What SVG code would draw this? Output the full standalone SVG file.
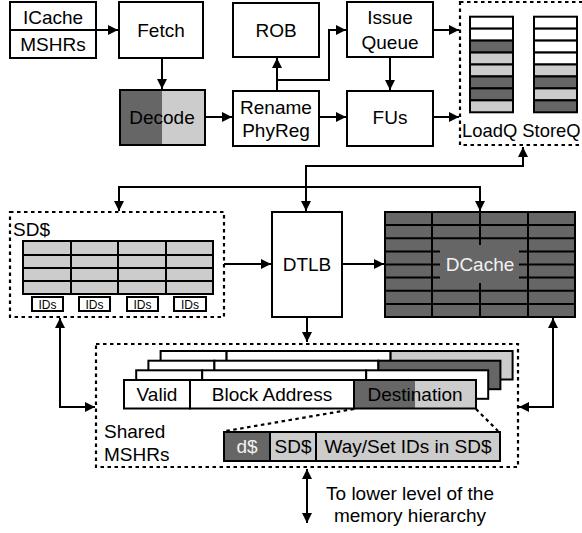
<svg xmlns="http://www.w3.org/2000/svg" width="582" height="533" viewBox="0 0 582 533">
  <style>
    .box { fill: #ffffff; stroke: #000; stroke-width: 2; }
    .dark { fill: #666666; stroke: #000; stroke-width: 2; }
    .light { fill: #cccccc; stroke: #000; stroke-width: 2; }
    .dot { fill: none; stroke: #000; stroke-width: 2.2; stroke-dasharray: 3.5 3.5; }
    .wire { fill: none; stroke: #000; stroke-width: 2; }
    .grid { fill: none; stroke: #000; stroke-width: 2; }
    text { font-family: "Liberation Sans", Arial, Helvetica, sans-serif; font-size: 19px; fill: #000; }
    .c { text-anchor: middle; dominant-baseline: central; }
    .small { font-size: 12px; }
    .white { fill: #f2f2f2; }
  </style>
  <defs>
    <marker id="arrow" viewBox="0 0 10 10" refX="10" refY="5" markerWidth="11" markerHeight="10" markerUnits="userSpaceOnUse" orient="auto-start-reverse">
      <path d="M0,0 L10,5 L0,10 z" fill="#000"/>
    </marker>
    <g id="mshr-entry">
      <rect class="box" x="0" y="0" width="66" height="28.5"/>
      <rect class="box" x="66" y="0" width="164" height="28.5"/>
    </g>
  </defs>

  <!-- front end -->
  <g id="icache">
    <rect class="box" x="10" y="2" width="86" height="56"/>
    <line class="grid" x1="10" y1="30" x2="96" y2="30"/>
    <text class="c" x="53" y="17">ICache</text>
    <text class="c" x="53" y="44">MSHRs</text>
  </g>
  <g id="fetch">
    <rect class="box" x="119" y="2" width="84" height="56"/>
    <text class="c" x="161" y="30">Fetch</text>
  </g>
  <g id="decode">
    <rect x="120" y="90" width="42" height="55" fill="#666666"/>
    <rect x="162" y="90" width="43" height="55" fill="#cccccc"/>
    <rect x="120" y="90" width="85" height="55" fill="none" stroke="#000" stroke-width="2"/>
    <text class="c" x="162" y="117">Decode</text>
  </g>
  <g id="rob">
    <rect class="box" x="233" y="3" width="86" height="54"/>
    <text class="c" x="276" y="30">ROB</text>
  </g>
  <g id="rename">
    <rect class="box" x="233" y="91" width="86" height="55"/>
    <text class="c" x="276" y="107">Rename</text>
    <text class="c" x="276" y="130">PhyReg</text>
  </g>
  <g id="issue-queue">
    <rect class="box" x="347" y="2" width="86" height="55"/>
    <text class="c" x="390" y="17">Issue</text>
    <text class="c" x="390" y="42">Queue</text>
  </g>
  <g id="fus">
    <rect class="box" x="347" y="91" width="86" height="55"/>
    <text class="c" x="390" y="117">FUs</text>
  </g>

  <!-- load / store queues -->
  <g id="lsq">
    <rect class="dot" x="460" y="2" width="135" height="143"/>
    <g id="loadq">
      <rect class="box" x="470" y="16.7" width="43" height="11.95"/>
      <rect class="box" x="470" y="28.65" width="43" height="11.95"/>
      <rect class="dark" x="470" y="40.6" width="43" height="11.95"/>
      <rect class="light" x="470" y="52.55" width="43" height="11.95"/>
      <rect class="light" x="470" y="64.5" width="43" height="11.95"/>
      <rect class="dark" x="470" y="76.45" width="43" height="11.95"/>
      <rect class="dark" x="470" y="88.4" width="43" height="11.95"/>
      <rect class="light" x="470" y="100.35" width="43" height="11.95"/>
    </g>
    <g id="storeq">
      <rect class="box" x="534" y="16.7" width="43" height="11.95"/>
      <rect class="box" x="534" y="28.65" width="43" height="11.95"/>
      <rect class="box" x="534" y="40.6" width="43" height="11.95"/>
      <rect class="box" x="534" y="52.55" width="43" height="11.95"/>
      <rect class="light" x="534" y="64.5" width="43" height="11.95"/>
      <rect class="dark" x="534" y="76.45" width="43" height="11.95"/>
      <rect class="light" x="534" y="88.4" width="43" height="11.95"/>
      <rect class="dark" x="534" y="100.35" width="43" height="11.95"/>
    </g>
    <text x="462" y="136.5" style="font-size:18.4px">LoadQ StoreQ</text>
  </g>

  <!-- SD$ -->
  <g id="sdcache">
    <rect class="dot" x="10" y="212" width="214" height="105"/>
    <text x="13" y="236">SD$</text>
    <rect class="light" x="23" y="241" width="190" height="53"/>
    <path class="grid" d="M71,241 V294 M118,241 V294 M166,241 V294 M23,255 H213 M23,268 H213 M23,281 H213"/>
    <rect class="box" x="32" y="297" width="31" height="14"/>
    <rect class="box" x="79" y="297" width="31" height="14"/>
    <rect class="box" x="127" y="297" width="31" height="14"/>
    <rect class="box" x="174" y="297" width="32" height="14"/>
    <text class="c small" x="47.5" y="304.5">IDs</text>
    <text class="c small" x="94.5" y="304.5">IDs</text>
    <text class="c small" x="142.5" y="304.5">IDs</text>
    <text class="c small" x="190" y="304.5">IDs</text>
  </g>

  <g id="dtlb">
    <rect class="box" x="272" y="212" width="70" height="105"/>
    <text class="c" x="307" y="264">DTLB</text>
  </g>

  <g id="dcache">
    <rect class="dark" x="385" y="212" width="190" height="105"/>
    <path class="grid" d="M432,212 V317 M480,212 V317 M528,212 V317 M385,225.1 H575 M385,238.25 H575 M385,251.4 H575 M385,264.5 H575 M385,277.6 H575 M385,290.75 H575 M385,303.9 H575"/>
    <rect x="440" y="245" width="79" height="38" fill="#666666"/>
    <text class="c white" x="480" y="264">DCache</text>
  </g>

  <!-- shared MSHRs -->
  <g id="shared-mshrs">
    <rect class="dot" x="96" y="344" width="422" height="123"/>
    <g id="mshr-3">
      <use href="#mshr-entry" x="160.6" y="351"/>
      <rect class="light" x="390.6" y="351" width="122" height="28.5"/>
    </g>
    <g id="mshr-2">
      <use href="#mshr-entry" x="148.4" y="360.7"/>
      <rect class="dark" x="378.4" y="360.7" width="122" height="28.5"/>
    </g>
    <g id="mshr-1">
      <use href="#mshr-entry" x="136.2" y="370.3"/>
      <rect class="box" x="366.2" y="370.3" width="122" height="28.5"/>
    </g>
    <g id="mshr-0">
      <use href="#mshr-entry" x="124" y="380"/>
      <rect x="354" y="380" width="61" height="28.5" fill="#666666"/>
      <rect x="415" y="380" width="61" height="28.5" fill="#cccccc"/>
      <rect x="354" y="380" width="122" height="28.5" fill="none" stroke="#000" stroke-width="2"/>
      <text class="c" x="157" y="394.5">Valid</text>
      <text class="c" x="272" y="394.5">Block Address</text>
      <text class="c" x="415" y="394.5">Destination</text>
    </g>
    <path class="dot" d="M354,409 L226,431 M476,409 L498,431"/>
    <g id="destination-fields">
      <rect class="dark" x="224" y="432" width="46" height="29"/>
      <rect class="light" x="270" y="432" width="46" height="29"/>
      <rect class="light" x="316" y="432" width="184" height="29"/>
      <text class="c white" x="247" y="446.5">d$</text>
      <text class="c" x="293" y="446.5">SD$</text>
      <text class="c" x="408" y="446.5">Way/Set IDs in SD$</text>
    </g>
    <text x="104" y="438">Shared</text>
    <text x="104" y="461">MSHRs</text>
  </g>

  <text class="c" x="410" y="493">To lower level of the</text>
  <text class="c" x="410" y="515">memory hierarchy</text>

  <!-- connectors -->
  <g id="connectors">
    <path class="wire" d="M96,30 H118" marker-end="url(#arrow)"/>
    <path class="wire" d="M162,58 V89" marker-end="url(#arrow)"/>
    <path class="wire" d="M205,117 H232" marker-end="url(#arrow)"/>
    <path class="wire" d="M277,91 V58" marker-end="url(#arrow)"/>
    <path class="wire" d="M277,80 H329 V30 H346" marker-end="url(#arrow)"/>
    <path class="wire" d="M319,117 H346" marker-end="url(#arrow)"/>
    <path class="wire" d="M390,57 V90" marker-end="url(#arrow)"/>
    <path class="wire" d="M433,30 H459" marker-end="url(#arrow)"/>
    <path class="wire" d="M433,117 H459" marker-end="url(#arrow)"/>
    <path class="wire" d="M523,147 V166 H306 V211" marker-start="url(#arrow)" marker-end="url(#arrow)"/>
    <path class="wire" d="M119,211 V187 H480 V211" marker-start="url(#arrow)" marker-end="url(#arrow)"/>
    <path class="wire" d="M224,264 H271" marker-end="url(#arrow)"/>
    <path class="wire" d="M342,264 H384" marker-end="url(#arrow)"/>
    <path class="wire" d="M307,317 V342" marker-end="url(#arrow)"/>
    <path class="wire" d="M60,318 V407 H95" marker-start="url(#arrow)" marker-end="url(#arrow)"/>
    <path class="wire" d="M553,318 V407 H519" marker-start="url(#arrow)" marker-end="url(#arrow)"/>
    <path class="wire" d="M307,469 V523" marker-start="url(#arrow)" marker-end="url(#arrow)"/>
  </g>
</svg>
